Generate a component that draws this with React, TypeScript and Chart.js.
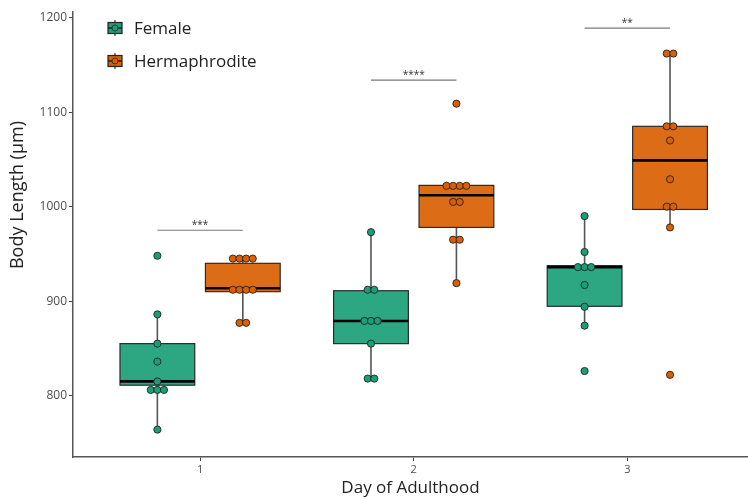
import React, { useEffect, useRef } from "react";
import { Chart, registerables } from "chart.js";

Chart.register(...registerables);

// ---- data ----
const days = [1, 2, 3];
const dayTicks = [1, 2, 3];
const yTicks = [800, 900, 1000, 1100, 1200];

const femaleValues = [
  [948, 886, 855, 836, 815, 806, 806, 806, 764],
  [973, 912, 912, 879, 879, 879, 855, 818, 818],
  [990, 952, 936, 936, 936, 917, 894, 874, 826],
];
const hermValues = [
  [945, 945, 945, 945, 912, 912, 912, 912, 877, 877],
  [1109, 1022, 1022, 1022, 1022, 1005, 1005, 965, 965, 919],
  [1162, 1162, 1085, 1085, 1070, 1029, 1000, 1000, 978, 822],
];

// box statistics
const femaleQ1 = [811, 855, 894.5];
const femaleMedian = [815, 879, 936];
const femaleQ3 = [855, 911, 937.5];
const femaleWhiskerLow = [764, 818, 874];
const femaleWhiskerHigh = [886, 973, 990];

const hermQ1 = [910, 978, 997];
const hermMedian = [913.6, 1012, 1049];
const hermQ3 = [940, 1022.5, 1085];
const hermWhiskerLow = [877, 919, 978];
const hermWhiskerHigh = [945, 1022.5, 1162];

const sigLabels = ["***", "****", "**"];
const sigHeights = [975, 1134, 1189];

const Y_TITLE = "Body Length (µm)";
const X_TITLE = "Day of Adulthood";

const FEMALE = "#1b9e77";
const HERM = "#d95f02";
const FONT = "'Open Sans', 'Noto Sans', sans-serif";

const groups = [
  { label: "Female", color: FEMALE, offset: -0.2, values: femaleValues, q1: femaleQ1, med: femaleMedian, q3: femaleQ3, wl: femaleWhiskerLow, wh: femaleWhiskerHigh },
  { label: "Hermaphrodite", color: HERM, offset: 0.2, values: hermValues, q1: hermQ1, med: hermMedian, q3: hermQ3, wl: hermWhiskerLow, wh: hermWhiskerHigh },
];

const BOX_HALF = 0.175;
const SWARM = 0.031;

function swarmPoints(values: number[][], offset: number) {
  const pts: { x: number; y: number }[] = [];
  values.forEach((vals, i) => {
    const counts: Record<number, number> = {};
    vals.forEach((v) => (counts[v] = (counts[v] || 0) + 1));
    const seen: Record<number, number> = {};
    vals.forEach((v) => {
      const n = counts[v];
      const k = seen[v] || 0;
      seen[v] = k + 1;
      pts.push({ x: days[i] + offset + (k - (n - 1) / 2) * SWARM, y: v });
    });
  });
  return pts;
}

const boxPlugin = {
  id: "boxes",
  beforeDatasetsDraw(chart: any) {
    const { ctx, scales } = chart;
    const x = scales.x;
    const y = scales.y;
    ctx.save();
    groups.forEach((g) => {
      days.forEach((d, i) => {
        const cx = x.getPixelForValue(d + g.offset);
        const left = x.getPixelForValue(d + g.offset - BOX_HALF);
        const right = x.getPixelForValue(d + g.offset + BOX_HALF);
        const yq1 = y.getPixelForValue(g.q1[i]);
        const yq3 = y.getPixelForValue(g.q3[i]);
        const ymed = y.getPixelForValue(g.med[i]);
        ctx.strokeStyle = "#555555";
        ctx.lineWidth = 1.6;
        ctx.beginPath();
        ctx.moveTo(cx, y.getPixelForValue(g.wl[i]));
        ctx.lineTo(cx, yq1);
        ctx.moveTo(cx, yq3);
        ctx.lineTo(cx, y.getPixelForValue(g.wh[i]));
        ctx.stroke();
        ctx.fillStyle = g.color;
        ctx.globalAlpha = 0.92;
        ctx.fillRect(left, yq3, right - left, yq1 - yq3);
        ctx.globalAlpha = 1;
        ctx.strokeStyle = "#2b2b2b";
        ctx.lineWidth = 1.2;
        ctx.strokeRect(left, yq3, right - left, yq1 - yq3);
        ctx.strokeStyle = "#000000";
        ctx.lineWidth = 2.6;
        ctx.beginPath();
        ctx.moveTo(left, ymed);
        ctx.lineTo(right, ymed);
        ctx.stroke();
      });
    });
    ctx.restore();
  },
  afterDatasetsDraw(chart: any) {
    const { ctx, scales } = chart;
    const x = scales.x;
    const y = scales.y;
    ctx.save();
    days.forEach((d, i) => {
      const x1 = x.getPixelForValue(d + groups[0].offset);
      const x2 = x.getPixelForValue(d + groups[1].offset);
      const yy = y.getPixelForValue(sigHeights[i]);
      ctx.strokeStyle = "#7a7a7a";
      ctx.lineWidth = 1.2;
      ctx.beginPath();
      ctx.moveTo(x1, yy);
      ctx.lineTo(x2, yy);
      ctx.stroke();
      ctx.fillStyle = "#333333";
      ctx.font = `10px ${FONT}`;
      ctx.textAlign = "center";
      ctx.textBaseline = "alphabetic";
      ctx.fillText(sigLabels[i], (x1 + x2) / 2, yy - 2);
    });
    // legend
    const lx = 115;
    const lys = [28, 61];
    groups.forEach((g, k) => {
      const cy = lys[k];
      ctx.strokeStyle = "#333333";
      ctx.lineWidth = 1.2;
      ctx.beginPath();
      ctx.moveTo(lx, cy - 8);
      ctx.lineTo(lx, cy + 8);
      ctx.stroke();
      ctx.fillStyle = g.color;
      ctx.fillRect(lx - 7, cy - 5.5, 14, 11);
      ctx.strokeStyle = "#222222";
      ctx.strokeRect(lx - 7, cy - 5.5, 14, 11);
      ctx.beginPath();
      ctx.moveTo(lx - 7, cy);
      ctx.lineTo(lx + 7, cy);
      ctx.lineWidth = 1.5;
      ctx.stroke();
      ctx.beginPath();
      ctx.arc(lx, cy, 3, 0, Math.PI * 2);
      ctx.fillStyle = g.color;
      ctx.fill();
      ctx.lineWidth = 0.8;
      ctx.stroke();
      ctx.fillStyle = "#222222";
      ctx.font = `17px ${FONT}`;
      ctx.textAlign = "left";
      ctx.textBaseline = "middle";
      ctx.fillText(g.label, 134, cy + 1);
    });
    // y title
    ctx.translate(18, 195);
    ctx.rotate(-Math.PI / 2);
    ctx.fillStyle = "#222222";
    ctx.font = `18px ${FONT}`;
    ctx.textAlign = "center";
    ctx.textBaseline = "middle";
    ctx.fillText(Y_TITLE, 0, 0);
    ctx.restore();
  },
};

export default function App() {
  const ref = useRef<HTMLCanvasElement | null>(null);
  useEffect(() => {
    document.body.style.margin = "0";
    if (!ref.current) return;
    const chart = new Chart(ref.current, {
      type: "scatter",
      data: {
        datasets: groups.map((g) => ({
          label: g.label,
          data: swarmPoints(g.values, g.offset),
          backgroundColor: g.color,
          borderColor: "rgba(30,30,30,0.85)",
          borderWidth: 1,
          pointRadius: 3.6,
        })),
      },
      options: {
        responsive: false,
        maintainAspectRatio: false,
        animation: false,
        layout: { autoPadding: false, padding: { top: 12, right: 0, left: 0, bottom: 0 } },
        plugins: { legend: { display: false }, tooltip: { enabled: false } },
        scales: {
          x: {
            type: "linear",
            min: 0.405,
            max: 3.565,
            afterBuildTicks: (s: any) => {
              s.ticks = dayTicks.map((v) => ({ value: v }));
            },
            afterFit: (s: any) => {
              s.height = 43;
            },
            grid: { display: true, drawOnChartArea: false, drawTicks: true, tickLength: 4, color: "#444444", tickColor: "#444444" },
            border: { display: true, color: "#555555", width: 1.5 },
            ticks: { color: "#4d4d4d", font: { size: 11, family: FONT }, padding: 2 },
            title: { display: true, text: X_TITLE, color: "#222222", font: { size: 17, family: FONT }, padding: { top: 0, bottom: 2 } },
          },
          y: {
            min: 735,
            max: 1206,
            afterBuildTicks: (s: any) => {
              s.ticks = yTicks.map((v) => ({ value: v }));
            },
            afterFit: (s: any) => {
              s.width = 73;
            },
            grid: { display: true, drawOnChartArea: false, drawTicks: true, tickLength: 4, color: "#444444", tickColor: "#444444" },
            border: { display: true, color: "#555555", width: 1.5 },
            ticks: { color: "#4d4d4d", font: { size: 12, family: FONT }, padding: 2, callback: (v: any) => String(v) },
            title: { display: false },
          },
        },
      },
      plugins: [boxPlugin],
    } as any);
    return () => chart.destroy();
  }, []);
  return (
    <div style={{ position: "fixed", left: 0, top: 0, width: 748, height: 500, background: "#fff" }}>
      <canvas ref={ref} width={748} height={500} />
    </div>
  );
}
